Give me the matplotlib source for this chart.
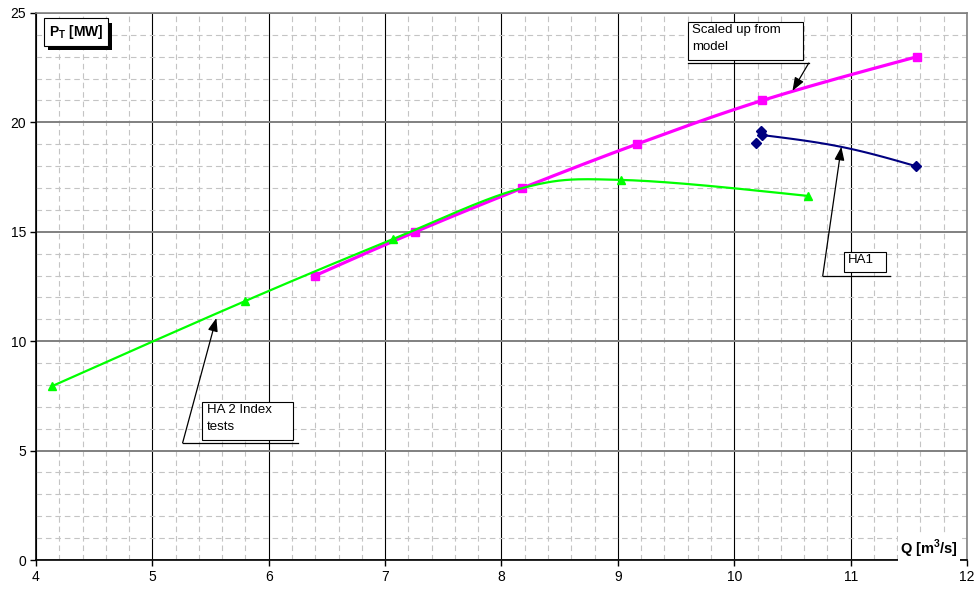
import matplotlib
matplotlib.use('Agg')
import matplotlib.pyplot as plt
import matplotlib.patheffects as pe
from matplotlib.patches import Rectangle
from matplotlib.ticker import MultipleLocator
import numpy as np

plt.rcParams['font.family'] = ['Liberation Sans', 'DejaVu Sans']
plt.rcParams['mathtext.fontset'] = 'custom'
plt.rcParams['mathtext.rm'] = 'Liberation Sans'
plt.rcParams['mathtext.bf'] = 'Liberation Sans:bold'

# scaled up from model
q_model = [6.40, 7.26, 8.18, 9.16, 10.24, 11.57]
p_model = [13.0, 15.0, 17.0, 19.0, 21.0, 23.0]

# HA 2 index tests (4th point has no marker)
q_ha2 = [4.14, 5.80, 7.07, 8.18, 9.03, 10.63]
p_ha2 = [7.95, 11.84, 14.67, 17.0, 17.37, 16.64]
ha2_marked = [0, 1, 2, 4, 5]

# HA1 (line runs from the 3rd point on, 4th point has no marker)
q_ha1 = [10.19, 10.23, 10.24, 10.92, 11.56]
p_ha1 = [19.07, 19.62, 19.42, 18.88, 18.0]
ha1_marked = [0, 1, 2, 4]
ha1_line_from = 2


def smooth(xs, ys, n=40):
    # cubic hermite through the points, natural ends
    P = np.column_stack([xs, ys]).astype(float)
    k = len(P)
    m = np.zeros_like(P)
    m[1:-1] = (P[2:] - P[:-2]) / 2
    m[0] = (3 * (P[1] - P[0]) - m[1]) / 2
    m[-1] = (3 * (P[-1] - P[-2]) - m[-2]) / 2
    t = np.linspace(0, 1, n)[:, None]
    h00 = 2 * t**3 - 3 * t**2 + 1
    h10 = t**3 - 2 * t**2 + t
    h01 = -2 * t**3 + 3 * t**2
    h11 = t**3 - t**2
    out = [h00 * P[i] + h10 * m[i] + h01 * P[i + 1] + h11 * m[i + 1] for i in range(k - 1)]
    out = np.vstack(out)
    return out[:, 0], out[:, 1]


fig = plt.figure(figsize=(9.77, 5.89), dpi=100)
ax = fig.add_axes([0.0368, 0.0492, 0.9530, 0.9288])

ax.set_xlim(4, 12)
ax.set_ylim(0, 25)
ax.xaxis.set_major_locator(MultipleLocator(1))
ax.yaxis.set_major_locator(MultipleLocator(5))
ax.xaxis.set_minor_locator(MultipleLocator(0.2))
ax.yaxis.set_minor_locator(MultipleLocator(1))
ax.tick_params(which='major', direction='out', length=4, width=1, labelsize=10, pad=3)
ax.tick_params(which='minor', length=0)

# grid
ax.grid(True, which='minor', axis='both', color='#c4c4c4', linestyle=(0, (5, 3.5)), linewidth=0.8)
ax.grid(True, which='major', axis='x', color='black', linestyle='-', linewidth=0.8)
ax.grid(True, which='major', axis='y', color='#808080', linestyle='-', linewidth=1.4)
ax.set_axisbelow(True)
for s in ['top', 'right']:
    ax.spines[s].set_color('#808080')
    ax.spines[s].set_linewidth(1.2)
for s in ['left', 'bottom']:
    ax.spines[s].set_color('black')
    ax.spines[s].set_linewidth(1.2)

# curves
xs, ys = smooth(q_model, p_model)
ax.plot(xs, ys, color='#ff00ff', lw=2.3, zorder=3)
ax.plot(q_model, p_model, 's', color='#ff00ff', ms=5.5, zorder=3)

xs, ys = smooth(q_ha1[ha1_line_from:], p_ha1[ha1_line_from:])
ax.plot(xs, ys, color='#000080', lw=1.5, zorder=4)
ax.plot(q_ha1, p_ha1, 'D', color='#000080', ms=5, markevery=ha1_marked, zorder=4)

xs, ys = smooth(q_ha2, p_ha2)
ax.plot(xs, ys, color='#00ff00', lw=1.6, zorder=5)
ax.plot(q_ha2, p_ha2, '^', color='#00ff00', ms=6, markevery=ha2_marked, zorder=5)

# axis captions
t = ax.text(4.11, 24.12, r'$\mathbf{P_T}$ [MW]', fontsize=10, fontweight='bold',
            ha='left', va='center', zorder=8,
            bbox=dict(boxstyle='square,pad=0.35', fc='white', ec='black', lw=0.8))
t.get_bbox_patch().set_path_effects([pe.withSimplePatchShadow(offset=(3, -3), shadow_rgbFace='black', alpha=1)])

ax.text(11.92, 0.5, r'$\mathbf{Q}$ [m$^\mathbf{3}$/s]', fontsize=10.5, fontweight='bold',
        ha='right', va='center', zorder=8,
        bbox=dict(boxstyle='square,pad=0.15', fc='white', ec='none'))


# callouts: box, leader line, arrow
def callout(box, label, leader_y, leader_x, start_x, target):
    x0, x1, y0, y1 = box
    ax.add_patch(Rectangle((x0, y0), x1 - x0, y1 - y0, fc='white', ec='black', lw=0.8, zorder=7))
    ax.text(x0 + 0.04, y1 - 0.1, label, fontsize=9.5, ha='left', va='top', linespacing=1.5, zorder=8)
    ax.plot(leader_x, [leader_y, leader_y], color='black', lw=0.9, zorder=7)
    ax.annotate('', xy=target, xytext=(start_x, leader_y), zorder=7,
                arrowprops=dict(arrowstyle='-|>,head_length=0.8,head_width=0.3',
                                color='black', lw=0.9, shrinkA=0, shrinkB=0))


callout((9.60, 10.59, 22.85, 24.59), 'Scaled up from\nmodel', 22.71, [9.60, 10.64], 10.64, (10.50, 21.44))
callout((10.94, 11.30, 13.16, 14.08), 'HA1', 12.98, [10.76, 11.34], 10.76, (10.92, 18.88))
callout((5.43, 6.21, 5.48, 7.22), 'HA 2 Index\ntests', 5.35, [5.26, 6.25], 5.26, (5.55, 11.06))

plt.savefig('out.png', dpi=100)
